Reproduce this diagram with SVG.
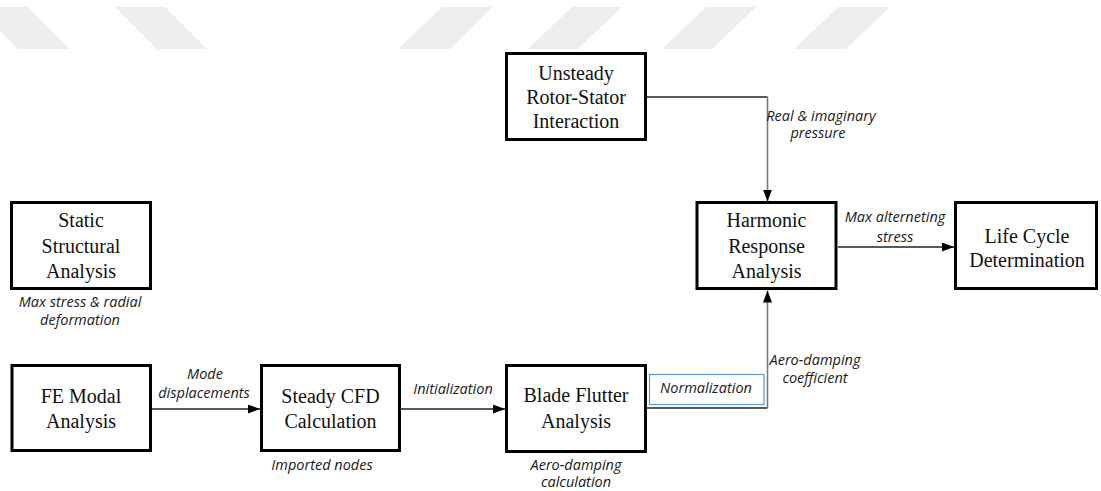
<svg xmlns="http://www.w3.org/2000/svg" width="1101" height="491" viewBox="0 0 1101 491">
  <style>
    .box { fill: #ffffff; stroke: #000000; stroke-width: 3; }
    .title { font-family: "Liberation Serif", "Times New Roman", serif; font-size: 20px; fill: #111111; text-anchor: middle; }
    .note { font-family: "Open Sans", "Liberation Sans", sans-serif; font-style: italic; font-size: 14.5px; fill: #1a1a1a; text-anchor: middle; }
    .stripe { fill: #eeeeee; }
    .link { fill: none; stroke: #222222; stroke-width: 1.4; }
    .link-v { fill: none; stroke: #7a7a7a; stroke-width: 1.6; }
    .normbox { fill: #ffffff; stroke: #5b9bd5; stroke-width: 1.2; }
  </style>
  <defs>
    <marker id="arrow" markerUnits="userSpaceOnUse" markerWidth="13" markerHeight="10" refX="12" refY="4.5" orient="auto">
      <path d="M0,0 L12,4.5 L0,9 z" fill="#000000"/>
    </marker>
  </defs>

  <rect width="1101" height="491" fill="#ffffff"/>

  <!-- background band of slanted stripes -->
  <g id="stripes">
    <polygon class="stripe" points="-24,7 28,7 70,49 18,49"/>
    <polygon class="stripe" points="115,7 165,7 207,49 157,49"/>
    <polygon class="stripe" points="442,7 492,7 450,49 398,49"/>
    <polygon class="stripe" points="572,7 622,7 578,49 528,49"/>
    <polygon class="stripe" points="706,7 756,7 712,49 662,49"/>
    <polygon class="stripe" points="838,7 890,7 846,49 794,49"/>
  </g>

  <!-- connectors -->
  <g id="connectors">
    <path class="link" d="M646,97 H767.5"/>
    <path class="link-v" d="M767.5,97 V201.5" marker-end="url(#arrow)"/>
    <path class="link" d="M646,408 H767.5"/>
    <path class="link-v" d="M767.5,408 V290.5" marker-end="url(#arrow)"/>
    <path class="link" d="M151,409 H260" marker-end="url(#arrow)"/>
    <path class="link" d="M401,409 H505" marker-end="url(#arrow)"/>
    <path class="link" d="M838,247 H954" marker-end="url(#arrow)"/>
  </g>

  <!-- connector labels -->
  <g id="labels">
    <text class="note" x="821" y="121">Real &amp; imaginary</text>
    <text class="note" x="818" y="138">pressure</text>
    <text class="note" x="895" y="222">Max alterneting</text>
    <text class="note" x="895" y="242">stress</text>
    <text class="note" x="205" y="379">Mode</text>
    <text class="note" x="204" y="398">displacements</text>
    <text class="note" x="453" y="394">Initialization</text>
    <text class="note" x="815" y="365">Aero-damping</text>
    <text class="note" x="815" y="383">coefficient</text>
  </g>

  <g id="node-unsteady">
    <rect class="box" x="506.5" y="53.5" width="139" height="86"/>
    <text class="title" x="576" y="79.5">Unsteady</text>
    <text class="title" x="576" y="103.5">Rotor-Stator</text>
    <text class="title" x="576" y="128">Interaction</text>
  </g>

  <g id="node-static">
    <rect class="box" x="11.5" y="202.5" width="139" height="86"/>
    <text class="title" x="81" y="227">Static</text>
    <text class="title" x="81" y="252.5">Structural</text>
    <text class="title" x="81" y="278">Analysis</text>
    <text class="note" x="80" y="307">Max stress &amp; radial</text>
    <text class="note" x="80" y="325">deformation</text>
  </g>

  <g id="node-harmonic">
    <rect class="box" x="697" y="202.5" width="139" height="86"/>
    <text class="title" x="766.5" y="227">Harmonic</text>
    <text class="title" x="766.5" y="252.5">Response</text>
    <text class="title" x="766.5" y="278">Analysis</text>
  </g>

  <g id="node-lifecycle">
    <rect class="box" x="955.5" y="202.5" width="141" height="86"/>
    <text class="title" x="1027" y="243">Life Cycle</text>
    <text class="title" x="1027" y="266.5">Determination</text>
  </g>

  <g id="node-femodal">
    <rect class="box" x="12" y="365.5" width="138.5" height="85"/>
    <text class="title" x="81" y="403">FE Modal</text>
    <text class="title" x="81" y="428">Analysis</text>
  </g>

  <g id="node-steadycfd">
    <rect class="box" x="261.5" y="365.5" width="138" height="85"/>
    <text class="title" x="330.5" y="403">Steady CFD</text>
    <text class="title" x="330.5" y="428">Calculation</text>
    <text class="note" x="322" y="470">Imported nodes</text>
  </g>

  <g id="node-bladeflutter">
    <rect class="box" x="506.5" y="365.5" width="139" height="86"/>
    <text class="title" x="576" y="402">Blade Flutter</text>
    <text class="title" x="576" y="428">Analysis</text>
    <text class="note" x="576" y="470">Aero-damping</text>
    <text class="note" x="576" y="487">calculation</text>
  </g>

  <g id="node-normalization">
    <rect class="normbox" x="649.5" y="374.5" width="114.5" height="30"/>
    <text class="note" x="706" y="393">Normalization</text>
  </g>
</svg>
